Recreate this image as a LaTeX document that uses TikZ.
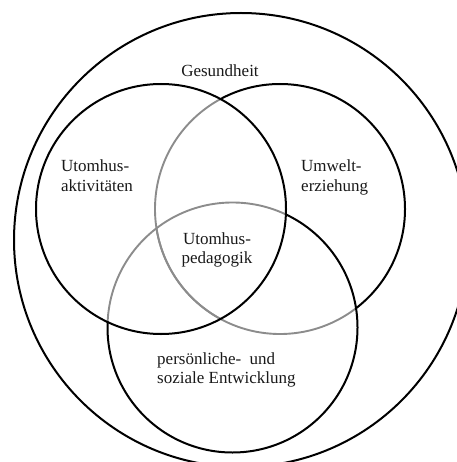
\documentclass[tikz,border=0pt]{standalone}
\usepackage{fontspec}
\setmainfont{Liberation Serif}
\begin{document}
\begin{tikzpicture}[x=1pt,y=-1pt,
  ring/.style={draw=black,line width=2pt},
  faint/.style={draw=black!45,line width=1.9pt},
  label/.style={font=\fontsize{17}{19.5}\selectfont,inner sep=0pt,text=black!90}]
\useasboundingbox (0,0) rectangle (456,462);
\coordinate (O) at (241,240);
\coordinate (L) at (161,209);
\coordinate (R) at (280,209);
\coordinate (B) at (232.5,327.5);
\def\rO{227}\def\rr{125}
% gray parts
\begin{scope}
  \clip (L) circle (\rr);
  \path[faint] (B) circle (\rr);
  \path[faint] (R) circle (\rr);
\end{scope}
\begin{scope}
  \clip (B) circle (\rr);
  \path[faint] (R) circle (\rr);
\end{scope}
% black parts
\path[ring] (O) circle (\rO);
\path[ring] (L) circle (\rr);
\begin{scope}[even odd rule]
  \clip (-50,-50) rectangle (520,520) (L) circle (\rr);
  \path[ring] (B) circle (\rr);
  \begin{scope}[even odd rule]
    \clip (-50,-50) rectangle (520,520) (B) circle (\rr);
    \path[ring] (R) circle (\rr);
  \end{scope}
\end{scope}
% labels
\node[label] (g) at (220,71) {Gesundheit};
\node[label,anchor=north west,align=left] (ua) at (61,160) {Utomhus-\\aktivitäten};
\node[label,anchor=north west,align=left] (ue) at (301,160) {Umwelt-\\erziehung};
\node[label,align=center] (up) at (217,250) {Utomhus-\\pedagogik};
\node[label,anchor=north west,align=left] (ps) at (157,352) {persönliche-\ \ und\\soziale Entwicklung};
\end{tikzpicture}
\end{document}
